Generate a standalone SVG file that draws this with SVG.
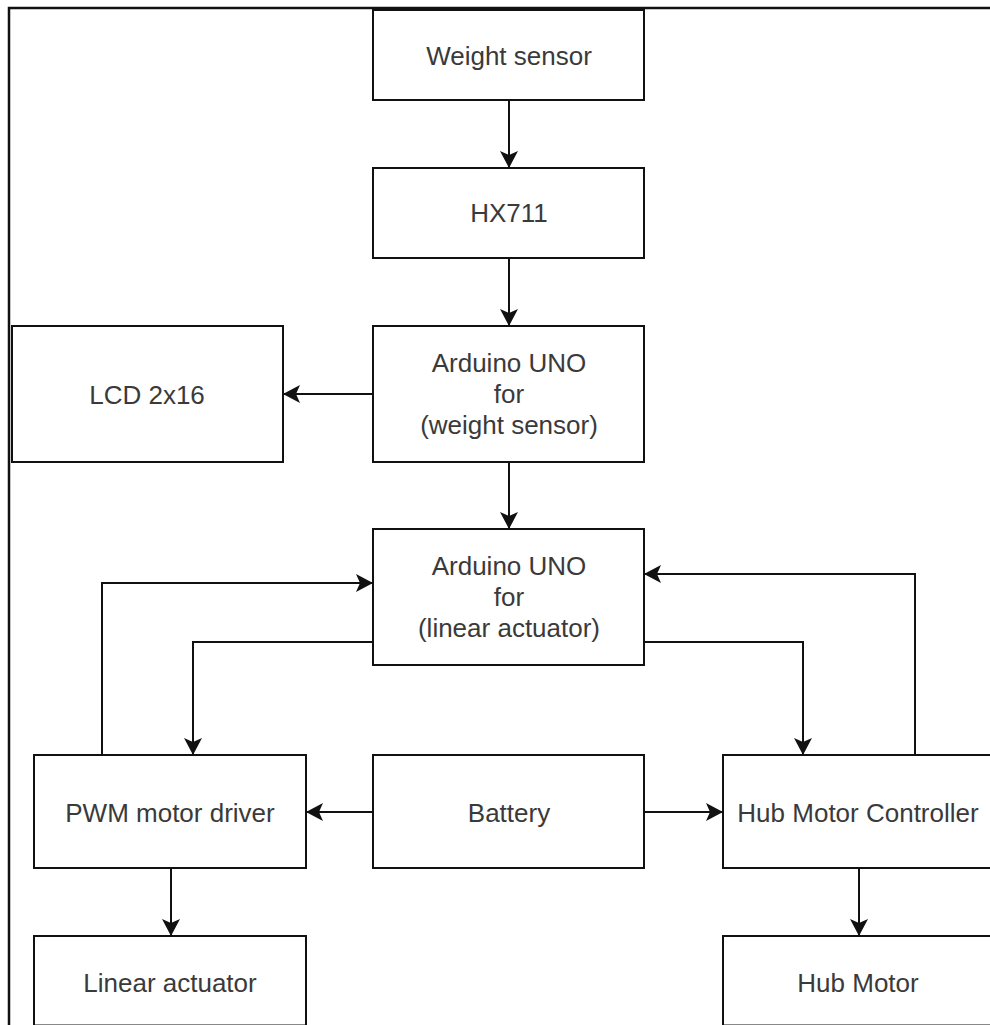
<svg xmlns="http://www.w3.org/2000/svg" width="990" height="1025" viewBox="0 0 990 1025">
<style>
.box{fill:#fff;stroke:#111;stroke-width:2}
.lbl{font-family:"Liberation Sans",Arial,sans-serif;font-size:26px;fill:#3a3a3a;text-anchor:middle}
.conn{fill:none;stroke:#111;stroke-width:2}
.frame{fill:none;stroke:#111;stroke-width:2.5}
</style>
<defs>
<marker id="arr" viewBox="0 0 17 18" refX="17" refY="9" markerWidth="17" markerHeight="18" markerUnits="userSpaceOnUse" orient="auto">
<path d="M0,0 L17,9 L0,18 L4,9 Z" fill="#111"/>
</marker>
</defs>
<rect width="990" height="1025" fill="#fff"/>
<path class="frame" d="M9,1025 V8 H990"/>
<g id="weight-sensor"><rect class="box" x="373" y="10" width="271" height="90"/><text class="lbl" x="509" y="65">Weight sensor</text></g>
<g id="hx711"><rect class="box" x="373" y="168" width="271" height="90"/><text class="lbl" x="509" y="222">HX711</text></g>
<g id="arduino-weight"><rect class="box" x="373" y="326" width="271" height="136"/><text class="lbl" x="509" y="372">Arduino UNO</text><text class="lbl" x="509" y="403">for</text><text class="lbl" x="509" y="434">(weight sensor)</text></g>
<g id="lcd"><rect class="box" x="12" y="326" width="271" height="136"/><text class="lbl" x="147" y="404">LCD 2x16</text></g>
<g id="arduino-actuator"><rect class="box" x="373" y="529" width="271" height="136"/><text class="lbl" x="509" y="575">Arduino UNO</text><text class="lbl" x="509" y="606">for</text><text class="lbl" x="509" y="637">(linear actuator)</text></g>
<g id="pwm-driver"><rect class="box" x="34" y="755" width="272" height="113"/><text class="lbl" x="170" y="822">PWM motor driver</text></g>
<g id="battery"><rect class="box" x="373" y="755" width="271" height="113"/><text class="lbl" x="509" y="822">Battery</text></g>
<g id="hub-controller"><rect class="box" x="723" y="755" width="272" height="113"/><text class="lbl" x="858" y="822">Hub Motor Controller</text></g>
<g id="linear-actuator"><rect class="box" x="34" y="936" width="272" height="89.5"/><text class="lbl" x="170" y="992">Linear actuator</text></g>
<g id="hub-motor"><rect class="box" x="723" y="936" width="272" height="89.5"/><text class="lbl" x="858" y="992">Hub Motor</text></g>
<g id="connectors">
<path class="conn" marker-end="url(#arr)" d="M509,100 V168"/>
<path class="conn" marker-end="url(#arr)" d="M509,258 V326"/>
<path class="conn" marker-end="url(#arr)" d="M373,394 H283"/>
<path class="conn" marker-end="url(#arr)" d="M509,462 V529"/>
<path class="conn" marker-end="url(#arr)" d="M102,755 V583 H373"/>
<path class="conn" marker-end="url(#arr)" d="M373,642 H193 V755"/>
<path class="conn" marker-end="url(#arr)" d="M644,642 H803 V755"/>
<path class="conn" marker-end="url(#arr)" d="M915,755 V574 H644"/>
<path class="conn" marker-end="url(#arr)" d="M373,812 H306"/>
<path class="conn" marker-end="url(#arr)" d="M644,812 H723"/>
<path class="conn" marker-end="url(#arr)" d="M171,868 V936"/>
<path class="conn" marker-end="url(#arr)" d="M859,868 V936"/>
</g>
</svg>
